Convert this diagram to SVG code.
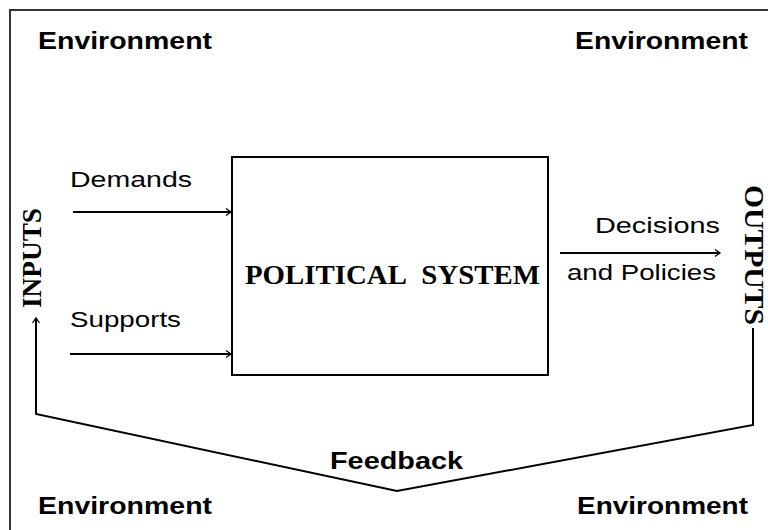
<svg xmlns="http://www.w3.org/2000/svg" width="768" height="530" viewBox="0 0 768 530">
<style>
.env{font-family:"Liberation Sans",Arial,sans-serif;font-weight:bold;font-size:24px;fill:#000}
.lbl{font-family:"Liberation Sans",Arial,sans-serif;font-size:22px;fill:#000}
.ser{font-family:"Liberation Serif","Times New Roman",serif;font-weight:bold;font-size:27px;fill:#000}
.ln{stroke:#000;stroke-width:2;fill:none}
</style>
<defs>
<marker id="ah" markerWidth="10" markerHeight="10" refX="8" refY="5" orient="auto" markerUnits="userSpaceOnUse">
<path d="M3,1.5 L8,5 L3,8.5" fill="none" stroke="#000" stroke-width="1.3"/>
</marker>
</defs>
<rect width="768" height="530" fill="#fff"/>
<g id="frame">
<path d="M10,530 V10 H768" fill="none" stroke="#333" stroke-width="2"/>
</g>
<g id="environment-labels">
<text class="env" x="38" y="49" textLength="174" lengthAdjust="spacingAndGlyphs">Environment</text>
<text class="env" x="575" y="49" textLength="173" lengthAdjust="spacingAndGlyphs">Environment</text>
<text class="env" x="38" y="514" textLength="174" lengthAdjust="spacingAndGlyphs">Environment</text>
<text class="env" x="577" y="514" textLength="171" lengthAdjust="spacingAndGlyphs">Environment</text>
</g>
<g id="political-system">
<rect x="232" y="157" width="316" height="218" fill="#fff" stroke="#000" stroke-width="2"/>
<text class="ser" x="245" y="284" textLength="295" lengthAdjust="spacingAndGlyphs">POLITICAL&#160; SYSTEM</text>
</g>
<g id="inputs">
<text class="ser" transform="translate(41,258) rotate(-90)" text-anchor="middle" textLength="100" lengthAdjust="spacingAndGlyphs">INPUTS</text>
</g>
<g id="outputs">
<text class="ser" transform="translate(745,255) rotate(90)" text-anchor="middle" textLength="140" lengthAdjust="spacingAndGlyphs">OUTPUTS</text>
</g>
<g id="connectors">
<line class="ln" x1="73" y1="212" x2="231" y2="212" marker-end="url(#ah)"/>
<line class="ln" x1="70" y1="354" x2="231" y2="354" marker-end="url(#ah)"/>
<line class="ln" x1="560" y1="253" x2="720" y2="253" marker-end="url(#ah)"/>
<path class="ln" d="M753,328 V425 L397,491 L36,414 V318" marker-end="url(#ah)"/>
</g>
<g id="connector-labels">
<text class="lbl" x="70" y="187" textLength="122" lengthAdjust="spacingAndGlyphs">Demands</text>
<text class="lbl" x="70" y="327" textLength="111" lengthAdjust="spacingAndGlyphs">Supports</text>
<text class="lbl" x="595" y="233" textLength="125" lengthAdjust="spacingAndGlyphs">Decisions</text>
<text class="lbl" x="567" y="280" textLength="149" lengthAdjust="spacingAndGlyphs">and Policies</text>
<text class="env" x="330" y="469" textLength="133" lengthAdjust="spacingAndGlyphs">Feedback</text>
</g>
</svg>
